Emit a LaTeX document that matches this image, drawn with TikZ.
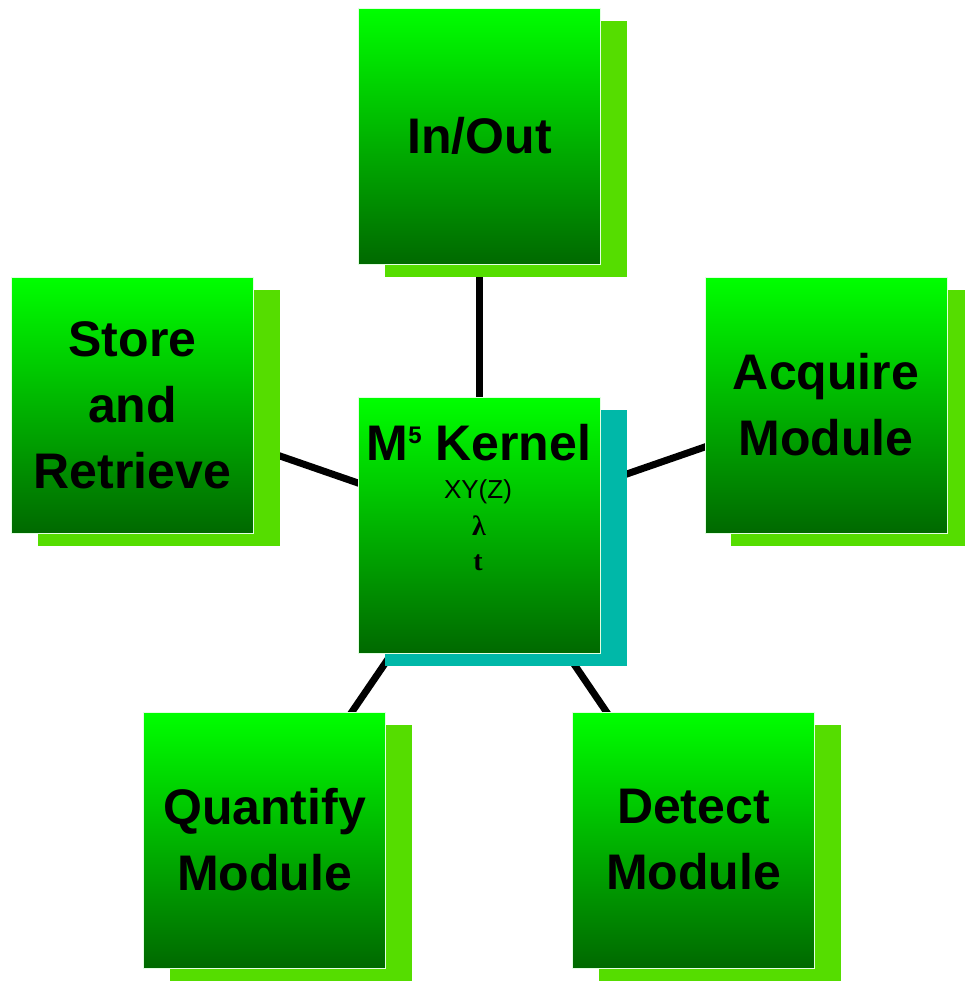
\documentclass[tikz,border=0pt]{standalone}
\usepackage{fontspec}
\setmainfont{Liberation Sans}
\newfontfamily\serifbf{Liberation Serif}
\usetikzlibrary{shadows,backgrounds}
\definecolor{gtop}{RGB}{0,255,0}
\definecolor{gbot}{RGB}{0,105,0}
\definecolor{shgreen}{RGB}{85,221,0}
\definecolor{shteal}{RGB}{0,184,168}
\definecolor{rim}{RGB}{225,255,225}
\begin{document}
\begin{tikzpicture}[x=1pt,y=-1pt,
  modbox/.style={draw=rim, line width=0.8pt, top color=gtop, bottom color=gbot,
    minimum width=242pt, minimum height=256pt, inner sep=0pt, align=center,
    font=\fontsize{50}{66}\selectfont\bfseries,
    drop shadow={shadow xshift=26pt, shadow yshift=-13pt, fill=#1, draw=none, opacity=1}},
  modbox/.default=shgreen,
  conn/.style={line width=7pt, black},
  ktitle/.style={anchor=base, inner sep=0pt, font=\fontsize{50}{60}\selectfont\bfseries},
  ksub/.style={anchor=base, inner sep=0pt, font=\fontsize{26}{30}\selectfont},
  ksym/.style={anchor=base, inner sep=0pt, font=\fontsize{28}{30}\selectfont\serifbf\bfseries}]
\useasboundingbox (0,0) rectangle (965,983);
\node[modbox] (io) at (479.5,136) {In/Out};
\node[modbox] (sr) at (132.5,405) {Store\\and\\Retrieve};
\node[modbox] (aq) at (826,405) {Acquire\\Module};
\node[modbox=shteal] (k) at (479.5,525) {};
\node[modbox] (qm) at (264.5,840) {Quantify\\Module};
\node[modbox] (dm) at (693.5,840) {Detect\\Module};
\node[ktitle] (kt) at (479,460) {M\raisebox{17pt}{\fontsize{24}{24}\selectfont 5} Kernel};
\node[ksub] (kxy) at (478,498) {XY(Z)};
\node[ksym] (kl) at (479,535) {λ};
\node[ksym] (kt2) at (478,570) {t};
\begin{pgfonlayer}{background}
\draw[conn] (io.center) -- (k.center);
\draw[conn] (sr.center) -- (k.center);
\draw[conn] (aq.center) -- (k.center);
\draw[conn] (qm.center) -- (k.center);
\draw[conn] (dm.center) -- (k.center);
\end{pgfonlayer}
\end{tikzpicture}
\end{document}
